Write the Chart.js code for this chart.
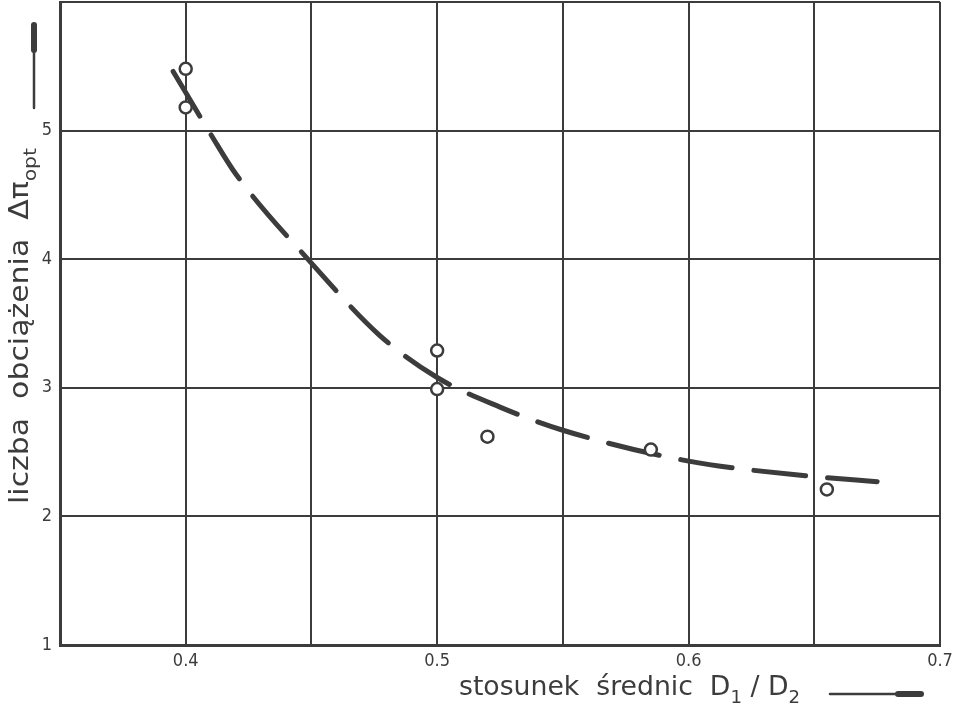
<!DOCTYPE html>
<html>
<head>
<meta charset="utf-8">
<script src="https://cdn.jsdelivr.net/npm/chart.js@4"></script>
<style>
  body { margin: 0; background: #fff; }
  #wrap { width: 959px; height: 708px; }
</style>
</head>
<body>
<div id="wrap"><canvas id="chart"></canvas></div>
<script>
// measured points (circles)
const pointX = [0.4, 0.4, 0.5, 0.5, 0.52, 0.585, 0.655];
const pointY = [5.48, 5.18, 3.29, 2.99, 2.62, 2.52, 2.21];

// dashed fitted curve
const curveX = [0.395, 0.41, 0.42, 0.45, 0.477, 0.5, 0.525, 0.55, 0.6, 0.65, 0.675];
const curveY = [5.46, 4.97, 4.66, 3.97, 3.41, 3.08, 2.85, 2.67, 2.43, 2.31, 2.27];

// tick labels shown
const xTickLabels = ['0.4', '0.5', '0.6', '0.7'];
const yTickLabels = ['1', '2', '3', '4', '5'];

const INK = '#3c3c3c';
const FONT = '"DejaVu Sans Condensed", "Liberation Sans Narrow", "DejaVu Sans", sans-serif';

// draw a run of text pieces, some as subscripts
function drawRuns(ctx, runs, size, targetWidth) {
  let total = 0;
  runs.forEach(r => {
    ctx.font = (r.sub ? size * 0.68 : size) + 'px ' + FONT;
    r.w = ctx.measureText(r.t).width;
    total += r.w;
  });
  const k = targetWidth / total;
  ctx.scale(k, 1);
  let x = 0;
  runs.forEach(r => {
    ctx.font = (r.sub ? size * 0.68 : size) + 'px ' + FONT;
    ctx.fillText(r.t, x, r.sub ? size * 0.28 : 0);
    x += r.w;
  });
}

const axisTitles = {
  id: 'axisTitles',
  afterDraw(chart) {
    const ctx = chart.ctx;
    ctx.save();
    ctx.fillStyle = INK;
    ctx.strokeStyle = INK;
    ctx.textBaseline = 'alphabetic';
    ctx.textAlign = 'left';

    // x title
    ctx.save();
    ctx.translate(459, 695);
    drawRuns(ctx, [
      { t: 'stosunek  średnic  D' }, { t: '1', sub: true },
      { t: ' / D' }, { t: '2', sub: true }
    ], 27, 341);
    ctx.restore();

    // y title (rotated)
    ctx.save();
    ctx.translate(28, 504);
    ctx.rotate(-Math.PI / 2);
    drawRuns(ctx, [
      { t: 'liczba  obciążenia  Δπ' }, { t: 'opt', sub: true }
    ], 27, 356);
    ctx.restore();

    // arrows
    ctx.lineCap = 'round';
    ctx.lineWidth = 2.5;
    ctx.beginPath();
    ctx.moveTo(830, 694); ctx.lineTo(905, 694);
    ctx.stroke();
    ctx.lineWidth = 6;
    ctx.beginPath();
    ctx.moveTo(898, 694); ctx.lineTo(921, 694);
    ctx.stroke();

    ctx.lineWidth = 2.5;
    ctx.beginPath();
    ctx.moveTo(34, 108); ctx.lineTo(34, 40);
    ctx.stroke();
    ctx.lineWidth = 6;
    ctx.beginPath();
    ctx.moveTo(34, 50); ctx.lineTo(34, 25);
    ctx.stroke();
    ctx.restore();
  }
};

new Chart(document.getElementById('chart'), {
  type: 'scatter',
  data: {
    datasets: [
      {
        label: 'pomiary',
        data: pointX.map((x, i) => ({ x: x, y: pointY[i] })),
        pointRadius: 6,
        pointBorderWidth: 2.5,
        pointBorderColor: INK,
        pointBackgroundColor: '#fff',
        order: 0
      },
      {
        label: 'krzywa',
        data: curveX.map((x, i) => ({ x: x, y: curveY[i] })),
        showLine: true,
        cubicInterpolationMode: 'monotone',
        borderColor: INK,
        borderWidth: 5,
        borderDash: [52, 22],
        borderCapStyle: 'round',
        pointRadius: 0,
        order: 1
      }
    ]
  },
  options: {
    responsive: true,
    maintainAspectRatio: false,
    animation: false,
    layout: { autoPadding: false, padding: { top: 2, right: 19, left: 0, bottom: 0 } },
    plugins: {
      legend: { display: false },
      tooltip: { enabled: false }
    },
    scales: {
      x: {
        type: 'linear',
        min: 0.35,
        max: 0.7,
        afterFit: s => {
          s.height = 63;
          s.paddingLeft = 0;
          s.paddingRight = 0;
        },
        afterBuildTicks: s => {
          s.ticks = [];
          for (let i = 0; i <= 7; i++) s.ticks.push({ value: Math.round((0.35 + i * 0.05) * 100) / 100 });
        },
        ticks: {
          autoSkip: false,
          maxRotation: 0,
          padding: 6,
          color: INK,
          font: { family: FONT, size: 18 },
          callback: v => {
            const s = String(Math.round(v * 100) / 100);
            return xTickLabels.includes(s) ? s : '';
          }
        },
        grid: { color: INK, lineWidth: 2, drawTicks: false },
        border: { color: INK, width: 3 }
      },
      y: {
        min: 1,
        max: 6,
        afterFit: s => {
          s.width = 60;
          s.paddingTop = 0;
          s.paddingBottom = 0;
        },
        ticks: {
          stepSize: 1,
          padding: 8,
          color: INK,
          font: { family: FONT, size: 18 },
          callback: v => {
            const s = String(v);
            return yTickLabels.includes(s) ? s : '';
          }
        },
        grid: { color: INK, lineWidth: 2, drawTicks: false },
        border: { color: INK, width: 3 }
      }
    }
  },
  plugins: [axisTitles]
});
</script>
</body>
</html>
